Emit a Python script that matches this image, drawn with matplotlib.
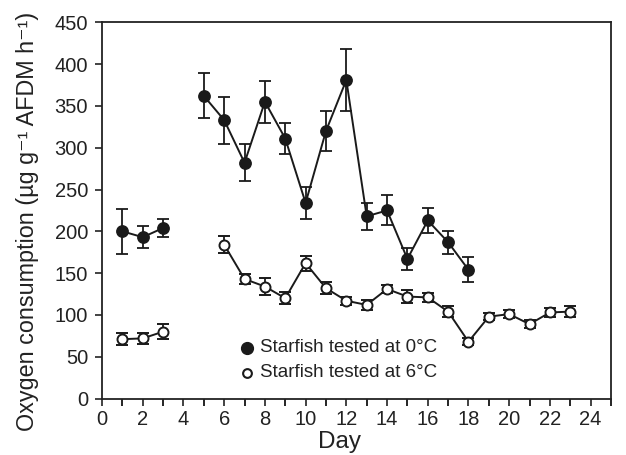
import matplotlib
matplotlib.use("Agg")
import matplotlib.pyplot as plt
from matplotlib.ticker import MultipleLocator

plt.rcParams['font.family'] = ['Liberation Sans', 'DejaVu Sans']

# Starfish tested at 0 C
days_cold = [1, 2, 3, 5, 6, 7, 8, 9, 10, 11, 12, 13, 14, 15, 16, 17, 18]
o2_cold = [200, 193, 204, 362, 333, 282, 355, 311, 234, 320, 381, 218, 225, 167, 213, 187, 154]
err_cold = [27, 13, 11, 27, 28, 22, 25, 19, 19, 24, 37, 16, 18, 13, 15, 14, 15]

# Starfish tested at 6 C
days_warm = [1, 2, 3, 6, 7, 8, 9, 10, 11, 12, 13, 14, 15, 16, 17, 18, 19, 20, 21, 22, 23]
o2_warm = [71, 72, 80, 184, 143, 134, 120, 162, 132, 117, 112, 131, 122, 121, 104, 68, 98, 101, 89, 103, 104]
err_warm = [7, 7, 9, 10, 6, 10, 7, 9, 7, 5, 6, 5, 8, 5, 7, 4, 4, 5, 5, 5, 7]

# the first three days are a separate run, drawn unconnected from the rest
split_cold = 3
split_warm = 3

fig = plt.figure(figsize=(6.26, 4.55), dpi=100)
ax = fig.add_axes([0.163, 0.124, 0.813, 0.827])

style = dict(color='#1a1a1a', lw=1.4, elinewidth=1.3, capsize=4.3, capthick=1.3)
for sl in (slice(0, split_cold), slice(split_cold, None)):
    ax.errorbar(days_cold[sl], o2_cold[sl], yerr=err_cold[sl], fmt='-o', ms=8.2,
                mfc='#1a1a1a', mec='#1a1a1a', zorder=3, **style)
for sl in (slice(0, split_warm), slice(split_warm, None)):
    ax.errorbar(days_warm[sl], o2_warm[sl], yerr=err_warm[sl], fmt='-o', ms=7.2,
                mfc='white', mec='#1a1a1a', mew=1.4, zorder=3, **style)

# legend drawn by hand like the original
ax.plot([7.1], [61], 'o', color='#1a1a1a', ms=8.5)
ax.text(7.75, 61, 'Starfish tested at 0°C', fontsize=13.5, va='center', color='#222222')
ax.plot([7.1], [31], 'o', mfc='white', mec='#1a1a1a', mew=1.5, ms=6.3)
ax.text(7.75, 31, 'Starfish tested at 6°C', fontsize=13.5, va='center', color='#222222')

ax.set_xlim(0, 25)
ax.set_ylim(0, 450)
ax.xaxis.set_major_locator(MultipleLocator(2))
ax.xaxis.set_minor_locator(MultipleLocator(1))
ax.yaxis.set_major_locator(MultipleLocator(50))
ax.tick_params(axis='both', direction='out', labelsize=14.5, colors='#222222', width=1.2, length=5)
ax.tick_params(axis='y', pad=5)
ax.tick_params(axis='x', pad=3)
ax.tick_params(axis='x', which='minor', direction='out', width=1.2, length=5)
for s in ax.spines.values():
    s.set_linewidth(1.3)
    s.set_color('#222222')

ax.set_xlabel('Day', fontsize=17.5, color='#222222')
ax.xaxis.set_label_coords(0.467, -0.085)
ax.set_ylabel('Oxygen consumption (µg g⁻¹ AFDM h⁻¹)', fontsize=16.8, color='#222222')
ax.yaxis.set_label_coords(-0.124, 0.47)

fig.savefig('out.png', dpi=100)
